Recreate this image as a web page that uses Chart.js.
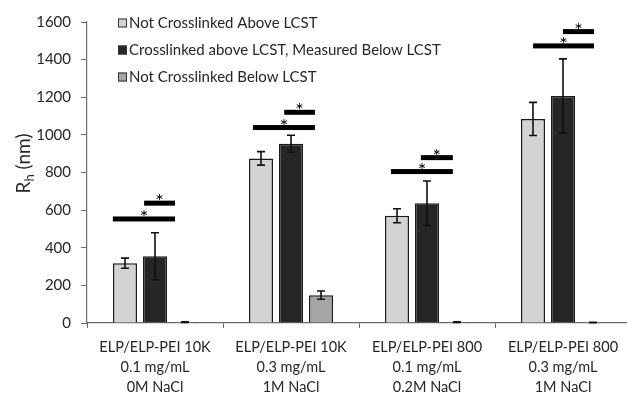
<!DOCTYPE html>
<html>
<head>
<meta charset="utf-8">
<script src="https://cdn.jsdelivr.net/npm/chart.js@4.4.0/dist/chart.umd.min.js"></script>
<style>
  html, body { margin: 0; padding: 0; background: #fff; overflow: hidden; }
  #wrap { position: relative; width: 631px; height: 395px; }
</style>
</head>
<body>
<div id="wrap"><canvas id="rhChart" width="631" height="395"></canvas></div>
<script>
const categories = [
  ["ELP/ELP-PEI 10K", "0.1 mg/mL", "0M NaCl"],
  ["ELP/ELP-PEI 10K", "0.3 mg/mL", "1M NaCl"],
  ["ELP/ELP-PEI 800", "0.1 mg/mL", "0.2M NaCl"],
  ["ELP/ELP-PEI 800", "0.3 mg/mL", "1M NaCl"]
];
const seriesNames = [
  "Not Crosslinked Above LCST",
  "Crosslinked above LCST, Measured Below LCST",
  "Not Crosslinked Below LCST"
];
const notCrosslinkedAbove = [318, 875, 570, 1085];
const notCrosslinkedAboveErr = [27, 36, 37, 88];
const crosslinkedBelow = [355, 953, 637, 1207];
const crosslinkedBelowErr = [125, 45, 118, 197];
const notCrosslinkedBelow = [5, 148, 5, 3];
const notCrosslinkedBelowErr = [2, 22, 2, 1];
const yTicks = [0, 200, 400, 600, 800, 1000, 1200, 1400, 1600];

// significance brackets (value level, span given as fraction of category width)
const sigLongLevel = [553, 1039, 805, 1473];
const sigShortLevel = [637, 1120, 879, 1549];
const sigLongFrom = [-0.31, -0.28, -0.265, -0.22];
const sigShortFrom = [-0.08, -0.05, -0.045, 0];
const sigTo = [0.147, 0.176, 0.19, 0.228];

const FONT = "Lato, 'Noto Sans', sans-serif";
const TEXT = "#262626";
const AXIS = "#6b6b6b";
const colors = ["#d2d3d2", "#262626", "#a5a5a5"];
const errors = [notCrosslinkedAboveErr, crosslinkedBelowErr, notCrosslinkedBelowErr];

const errorBars = {
  id: "errorBars",
  afterDatasetsDraw(chart) {
    const ctx = chart.ctx, y = chart.scales.y;
    ctx.save();
    ctx.strokeStyle = "#111";
    ctx.lineWidth = 1.6;
    chart.data.datasets.forEach((ds, di) => {
      chart.getDatasetMeta(di).data.forEach((bar, i) => {
        const v = ds.data[i], e = errors[di][i];
        const top = y.getPixelForValue(v + e), bot = y.getPixelForValue(v - e);
        ctx.beginPath();
        ctx.moveTo(bar.x, top); ctx.lineTo(bar.x, bot);
        ctx.moveTo(bar.x - 4, top); ctx.lineTo(bar.x + 4, top);
        ctx.moveTo(bar.x - 4, bot); ctx.lineTo(bar.x + 4, bot);
        ctx.stroke();
      });
    });
    ctx.restore();
  }
};

const sigBars = {
  id: "sigBars",
  afterDatasetsDraw(chart) {
    const ctx = chart.ctx, x = chart.scales.x, y = chart.scales.y;
    const cw = x.getPixelForValue(1) - x.getPixelForValue(0);
    ctx.save();
    ctx.fillStyle = "#000";
    ctx.font = "20px " + FONT;
    ctx.textAlign = "center";
    ctx.textBaseline = "alphabetic";
    const draw = (i, level, from) => {
      const cx = x.getPixelForValue(i);
      const x0 = cx + from * cw, x1 = cx + sigTo[i] * cw;
      const py = y.getPixelForValue(level);
      ctx.fillRect(x0, py - 2.5, x1 - x0, 5);
      ctx.fillText("*", (x0 + x1) / 2, py + 5);
    };
    categories.forEach((c, i) => {
      draw(i, sigLongLevel[i], sigLongFrom[i]);
      draw(i, sigShortLevel[i], sigShortFrom[i]);
    });
    ctx.restore();
  }
};

const customLegend = {
  id: "customLegend",
  afterDraw(chart) {
    const ctx = chart.ctx;
    ctx.save();
    ctx.font = "15px " + FONT;
    ctx.textBaseline = "middle";
    ctx.textAlign = "left";
    chart.data.datasets.forEach((ds, i) => {
      const cy = 23 + i * 27;
      ctx.fillStyle = ds.backgroundColor;
      ctx.fillRect(118, cy - 4.5, 9, 9);
      ctx.strokeStyle = "#333";
      ctx.lineWidth = 1;
      ctx.strokeRect(118.5, cy - 4, 8, 8);
      ctx.fillStyle = TEXT;
      ctx.fillText(ds.label, 129, cy);
    });
    ctx.restore();
  }
};

const yTitle = {
  id: "yTitle",
  afterDraw(chart) {
    const ctx = chart.ctx, a = chart.chartArea;
    ctx.save();
    ctx.translate(24, a.top + 0.47 * (a.bottom - a.top));
    ctx.rotate(-Math.PI / 2);
    ctx.fillStyle = TEXT;
    ctx.textBaseline = "middle";
    ctx.textAlign = "left";
    const big = "19px " + FONT, small = "13px " + FONT;
    ctx.font = big;
    const wR = ctx.measureText("R").width;
    const wRest = ctx.measureText(" (nm)").width;
    ctx.font = small;
    const wh = ctx.measureText("h").width;
    const sx = -(wR + wh + wRest) / 2;
    ctx.font = big;
    ctx.fillText("R", sx, 0);
    ctx.font = small;
    ctx.fillText("h", sx + wR, 6);
    ctx.font = big;
    ctx.fillText(" (nm)", sx + wR + wh, 0);
    ctx.restore();
  }
};

new Chart(document.getElementById("rhChart").getContext("2d"), {
  type: "bar",
  data: {
    labels: categories,
    datasets: [
      { label: seriesNames[0], data: notCrosslinkedAbove, backgroundColor: colors[0] },
      { label: seriesNames[1], data: crosslinkedBelow, backgroundColor: colors[1] },
      { label: seriesNames[2], data: notCrosslinkedBelow, backgroundColor: colors[2] }
    ]
  },
  options: {
    responsive: false,
    animation: false,
    devicePixelRatio: 1,
    layout: { padding: { top: 22, right: 0, bottom: 0, left: 0 } },
    datasets: {
      bar: {
        categoryPercentage: 0.662,
        barPercentage: 0.8,
        borderColor: "#1a1a1a",
        borderWidth: 1.5
      }
    },
    plugins: {
      legend: { display: false },
      tooltip: { enabled: false }
    },
    scales: {
      x: {
        grid: { offset: true, drawOnChartArea: false, tickLength: 5, color: AXIS },
        border: { color: AXIS, width: 1.2 },
        ticks: {
          color: TEXT,
          padding: 9,
          maxRotation: 0,
          autoSkip: false,
          font: { family: FONT, size: 14.5, lineHeight: "20px" }
        },
        afterFit(scale) { scale.height = 72; }
      },
      y: {
        min: 0,
        max: 1600,
        afterBuildTicks(scale) { scale.ticks = yTicks.map(v => ({ value: v })); },
        grid: { drawOnChartArea: false, tickLength: 6, color: AXIS },
        border: { color: AXIS, width: 1.2 },
        ticks: {
          color: TEXT,
          padding: 10,
          font: { family: FONT, size: 15 },
          callback: v => String(v)
        },
        afterFit(scale) { scale.width = 87; }
      }
    }
  },
  plugins: [errorBars, sigBars, customLegend, yTitle]
});
</script>
</body>
</html>
